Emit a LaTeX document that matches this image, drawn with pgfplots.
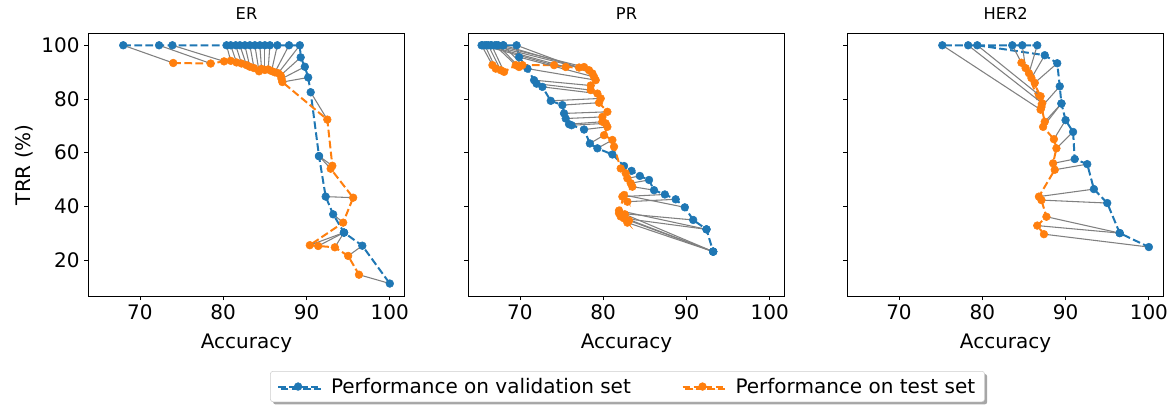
\documentclass[border=0pt]{standalone}
\usepackage{fontspec}
\setmainfont{DejaVu Sans}
\usepackage{pgfplots}
\usepackage{pgfplotstable}
\pgfplotsset{compat=1.18}
\usetikzlibrary{shadows}
\definecolor{tblue}{HTML}{1F77B4}
\definecolor{torange}{HTML}{FF7F0E}
\definecolor{lgray}{HTML}{808080}
\definecolor{legedge}{HTML}{CCCCCC}

\pgfplotstableread{
vx vy tx ty
68.0 100 74.0 93.4
72.3 100 78.5 93.2
73.9 100 80.1 94.0
80.4 100 80.9 94.2
80.9 100 81.6 93.6
81.5 100 82.2 93.2
82.0 100 82.8 92.6
82.6 100 83.2 92.0
83.2 100 83.7 91.5
83.8 100 84.3 90.3
84.4 100 84.6 91.2
85.0 100 85.0 90.8
85.6 100 85.4 91.0
86.5 100 85.8 90.4
87.9 100 86.2 89.9
89.2 100 86.6 89.6
89.3 95.5 86.9 88.8
89.8 92.0 87.0 87.5
90.2 88.0 87.1 86.3
90.5 82.5 92.5 72.3
91.5 58.7 93.1 55.1
91.5 58.7 92.9 54.0
92.3 43.6 95.6 43.2
93.2 37.0 94.4 33.9
94.5 30.2 90.4 25.5
94.5 30.2 91.4 25.2
94.5 30.2 93.4 24.7
96.7 25.3 95.0 21.5
100.0 11.2 96.3 14.5
}\er

\pgfplotstableread{
vx vy tx ty
65.4 100 66.7 92.6
65.8 100 67.1 91.3
66.2 100 67.7 90.7
66.6 100 68.1 90.1
67.0 100 69.5 92.6
67.4 100 69.9 91.9
68.0 100 70.3 92.6
65.5 100 74.1 92.6
66.0 100 75.5 91.9
66.5 100 77.1 91.7
67.2 100 77.7 91.9
68.0 100 78.3 90.7
69.6 100 78.7 89.5
69.9 95.6 78.9 88.2
70.9 91.3 79.1 87.0
71.7 87.0 78.5 85.0
72.0 85.7 78.5 83.3
72.7 84.5 79.3 82.0
73.7 79.3 79.7 80.2
75.1 77.7 79.5 78.6
75.3 74.6 80.5 75.2
75.5 72.7 79.9 73.3
75.9 70.6 79.9 71.5
76.2 70.2 80.3 70.9
77.7 68.6 80.5 69.6
78.4 63.4 80.1 66.5
79.3 61.6 81.1 64.7
81.1 59.3 81.3 62.2
82.5 55.0 82.1 54.1
83.4 53.2 82.7 52.3
84.4 51.3 82.9 50.4
85.5 49.8 83.3 48.6
86.1 46.0 83.5 47.3
87.4 44.4 82.3 43.6
88.7 42.6 82.9 41.7
89.8 39.6 82.5 44.2
90.8 34.9 81.9 37.4
92.4 31.4 82.5 35.5
92.4 31.4 81.9 38.4
93.2 23.1 82.9 33.9
93.2 23.1 82.1 36.2
93.2 23.1 83.1 34.7
93.2 23.1 82.6 37.0
}\pr

\pgfplotstableread{
vx vy tx ty
83.6 100 84.7 93.5
84.8 100 85.2 91.5
86.6 100 85.6 89.6
75.2 100 87.0 76.0
78.3 100 87.2 78.4
79.4 100 87.0 81.0
87.5 96.3 85.9 87.8
89.0 93.3 86.3 86.0
89.3 84.7 87.1 77.0
89.5 78.3 87.5 71.5
89.5 78.3 87.3 69.6
90.0 72.1 88.6 65.0
90.9 67.7 88.9 61.6
91.1 57.6 88.5 56.0
92.6 55.7 88.7 53.6
93.4 46.4 86.8 43.6
95.0 41.2 87.1 42.3
96.5 30.0 87.7 36.1
96.5 30.0 86.6 32.8
100.0 24.8 87.4 29.6
}\hertwo

\pgfplotsset{
  panel/.style={
    scale only axis, width=237.4pt, height=197.0pt,
    xmin=63.8, xmax=101.8, ymin=6.55, ymax=104.45,
    xtick={70,80,90,100}, ytick={20,40,60,80,100},
    tick align=outside, tick pos=left, major tick length=3pt,
    every tick/.style={black, line width=0.6pt},
    axis line style={line width=0.6pt},
    tick label style={font=\fontsize{15}{18}\selectfont},
    /pgf/number format/assume math mode=true,
    title style={font=\fontsize{12.2}{14}\selectfont, inner sep=0pt, anchor=south, yshift=4pt},
    xlabel={Accuracy},
    xlabel style={font=\fontsize{15}{18}\selectfont, at={(axis description cs:0.5,-0.199)}, anchor=base},
    legend image code/.code={\draw[mark repeat=2,mark phase=2,##1] plot coordinates {(0pt,0pt) (15pt,0pt) (30pt,0pt)};},
  },
  valstyle/.style={color=tblue, line width=1.5pt, dash pattern=on 5.8pt off 2.5pt, mark=*, mark size=2.9pt, mark options={solid, line width=0.4pt, fill=tblue}},
  teststyle/.style={color=torange, line width=1.5pt, dash pattern=on 5.8pt off 2.5pt, mark=*, mark size=2.9pt, mark options={solid, line width=0.4pt, fill=torange}},
  linkstyle/.style={color=lgray, line width=0.8pt, forget plot, -, quiver={u=\thisrow{tx}-\thisrow{vx}, v=\thisrow{ty}-\thisrow{vy}}},
}

\begin{document}
\begin{tikzpicture}
\useasboundingbox (0pt,0pt) rectangle (880.5pt,-303.75pt);

\begin{axis}[panel, at={(66.2pt,-25.0pt)}, anchor=north west, title={ER},
  ylabel={TRR (\%)},
  ylabel style={font=\fontsize{15}{18}\selectfont, at={(axis description cs:-0.203,0.5)}, anchor=center}]
\addplot[valstyle] table[x=vx,y=vy]{\er};
\addplot[teststyle] table[x=tx,y=ty]{\er};
\addplot[linkstyle] table[x=vx,y=vy]{\er};
\end{axis}

\begin{axis}[panel, at={(351.2pt,-25.0pt)}, anchor=north west, title={PR},
  yticklabels={},
  legend columns=2, legend cell align=left,
  legend style={at={(0.503,-0.2855)}, anchor=north, draw=legedge, rounded corners=2pt, fill=white,
    font=\fontsize{15}{18}\selectfont, inner xsep=5pt, inner ysep=3pt,
    /tikz/every odd column/.append style={column sep=7pt},
    /tikz/every even column/.append style={column sep=36pt},
    drop shadow={shadow xshift=2pt, shadow yshift=-2pt, fill=gray!70, opacity=1}}]
\addplot[valstyle] table[x=vx,y=vy]{\pr};
\addlegendentry{Performance on validation set}
\addplot[teststyle] table[x=tx,y=ty]{\pr};
\addlegendentry{Performance on test set}
\addplot[linkstyle] table[x=vx,y=vy]{\pr};
\end{axis}

\begin{axis}[panel, at={(635.5pt,-25.0pt)}, anchor=north west, title={HER2},
  yticklabels={}]
\addplot[valstyle] table[x=vx,y=vy]{\hertwo};
\addplot[teststyle] table[x=tx,y=ty]{\hertwo};
\addplot[linkstyle] table[x=vx,y=vy]{\hertwo};
\end{axis}
\end{tikzpicture}
\end{document}
